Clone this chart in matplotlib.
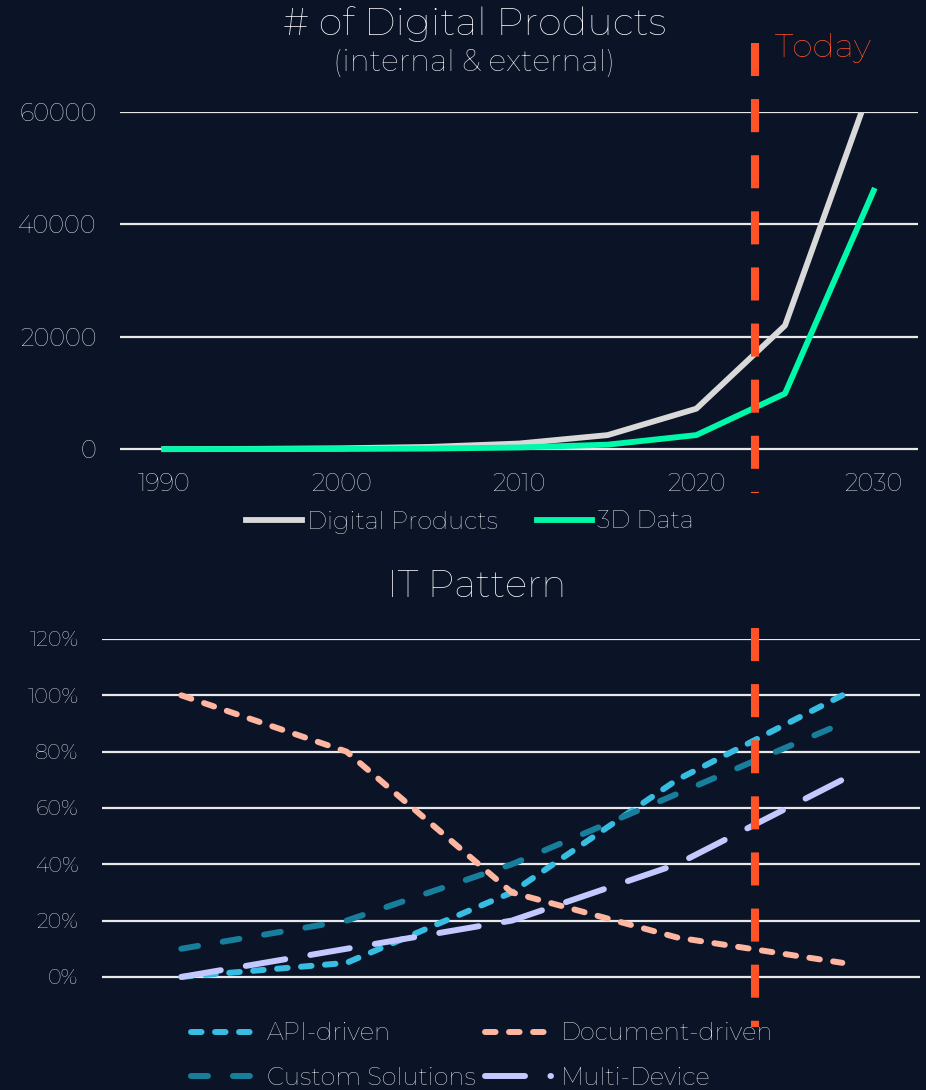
import matplotlib
matplotlib.use("Agg")
import matplotlib.pyplot as plt
from matplotlib.lines import Line2D
from matplotlib.transforms import blended_transform_factory
from matplotlib.ticker import PercentFormatter

# ---- data ----
years = [1990, 1995, 2000, 2005, 2010, 2015, 2020, 2025, 2030]
digital_products = [0, 50, 150, 400, 1000, 2500, 7200, 22000, 66000]
data_3d = [0, 10, 30, 100, 300, 800, 2500, 9900, 46000]

stages = [1990, 2000, 2010, 2020, 2030]
api_driven = [0.00, 0.05, 0.30, 0.70, 1.00]
document_driven = [1.00, 0.80, 0.30, 0.14, 0.05]
custom_solutions = [0.10, 0.20, 0.40, 0.65, 0.90]
multi_device = [0.00, 0.10, 0.20, 0.40, 0.70]

today = 2023.3

# ---- style ----
bg = '#0b1327'
grid_c = '#e8e8e8'
txt_c = '#f6f6f6'
red = '#ff5227'
plt.rcParams['font.family'] = ['Montserrat', 'Lato', 'DejaVu Sans']
plt.rcParams['font.weight'] = 'light'
plt.rcParams['lines.scale_dashes'] = False

W, H = 926, 1090
fig = plt.figure(figsize=(W / 100, H / 100), dpi=100, facecolor=bg)

def fx(px):
    return px / W

def fy(py):
    return 1 - py / H

def style_axes(ax, size):
    ax.set_facecolor(bg)
    for s in ax.spines.values():
        s.set_visible(False)
    ax.grid(axis='y', color=grid_c, linewidth=1.6)
    ax.grid(axis='x', visible=False)
    ax.set_axisbelow(True)
    ax.tick_params(length=0, colors=txt_c, labelsize=size)
    ax.tick_params(axis='y', pad=17)
    ax.tick_params(axis='x', pad=5)

# ---- top chart ----
ax1 = fig.add_axes([fx(120), fy(466), fx(918) - fx(120), fy(112) - fy(466)])
style_axes(ax1, 17.5)
ax1.plot(years, digital_products, color='#d9d9d9', lw=4.2, label='Digital Products')
ax1.plot(years, data_3d, color='#00f9a9', lw=4.2, label='3D Data')
ax1.set_xlim(1987.5, 2032.5)
ax1.set_ylim(-3000, 60000)
ax1.set_xticks([1990, 2000, 2010, 2020, 2030])
ax1.set_yticks([0, 20000, 40000, 60000])

fig.text(fx(475), fy(24), '# of Digital Products', ha='center', va='center',
         fontsize=27.5, color='white')
fig.text(fx(474), fy(63), '(internal & external)', ha='center', va='center',
         fontsize=21.5, color='white')
fig.text(fx(775), fy(48), 'Today', ha='left', va='center', fontsize=24, color=red)

fig.legend(*ax1.get_legend_handles_labels(), loc='center',
           bbox_to_anchor=(fx(470), fy(522)), ncol=2, frameon=False,
           fontsize=17.5, labelcolor=txt_c, handlelength=2.3,
           handletextpad=0.2, columnspacing=1.6)

# ---- bottom chart ----
ax2 = fig.add_axes([fx(102), fy(991), fx(920) - fx(102), fy(639) - fy(991)])
style_axes(ax2, 15)
l_api, = ax2.plot(stages, api_driven, color='#38bde2', lw=4.3,
                  linestyle=(0, (7.6, 9.7)), dash_capstyle='round', label='API-driven')
l_doc, = ax2.plot(stages, document_driven, color='#ffb6a0', lw=4.3,
                  linestyle=(0, (7.6, 9.7)), dash_capstyle='round', label='Document-driven')
l_cus, = ax2.plot(stages, custom_solutions, color='#177e9c', lw=4.3,
                  linestyle=(0, (12.2, 18.0)), dash_capstyle='round', label='Custom Solutions')
l_mul, = ax2.plot(stages, multi_device, color='#c3c9ff', lw=4.3,
                  linestyle=(0, (28.8, 18.3)), dash_capstyle='round', label='Multi-Device')
ax2.set_xlim(1985.2, 2034.7)
ax2.set_ylim(-0.05, 1.2)
ax2.set_yticks([0, 0.2, 0.4, 0.6, 0.8, 1.0, 1.2])
ax2.yaxis.set_major_formatter(PercentFormatter(1.0, decimals=0))
ax2.set_xticks([])

fig.text(fx(477), fy(586), 'IT Pattern', ha='center', va='center',
         fontsize=27, color='white')

fig.legend([l_api, l_cus, l_doc, l_mul],
           ['API-driven', 'Custom Solutions', 'Document-driven', 'Multi-Device'],
           loc='center', bbox_to_anchor=(fx(482), fy(1056)), ncol=2, frameon=False,
           fontsize=17.5, labelcolor=txt_c, handlelength=2.7,
           handletextpad=0.4, columnspacing=0.4, labelspacing=0.88)

# ---- today marker (x from the top chart, spans both panels) ----
tr = blended_transform_factory(ax1.transData, fig.transFigure)
for y0, y1 in [(43, 493), (628, 1027)]:
    fig.add_artist(Line2D([today, today], [fy(y0), fy(y1)], transform=tr,
                          color=red, lw=5.8, linestyle=(0, (23.8, 16.6)),
                          dash_capstyle='butt'))

fig.savefig('out.png', dpi=100, facecolor=bg)
